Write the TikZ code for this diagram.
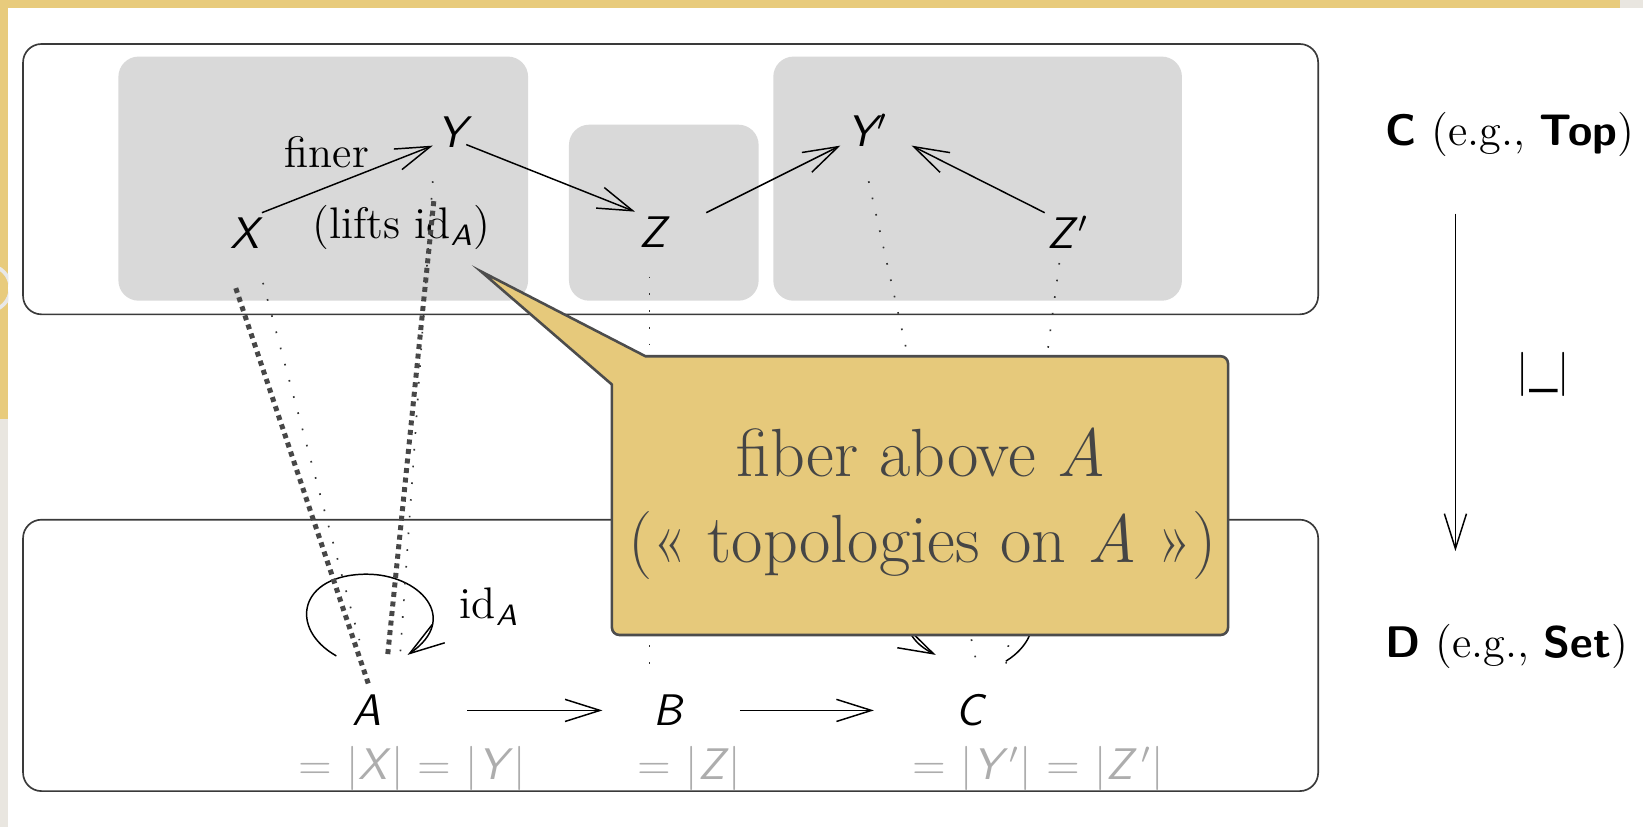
\documentclass[tikz,border=0pt]{standalone}
\usepackage{amsmath}
\usepackage{fontspec}
\usetikzlibrary{arrows.meta,calc}
\definecolor{beamyel}{HTML}{E8CB7C}
\definecolor{calloutyel}{HTML}{E6C97B}
\definecolor{boxgrey}{HTML}{D9D9D9}
\definecolor{texgrey}{HTML}{ADADAD}
\definecolor{darkline}{HTML}{3A3A3A}
\definecolor{stripgrey}{HTML}{E9E6E0}
\tikzset{
  obj/.style={font=\fontsize{12}{14}\selectfont\sffamily\itshape, inner sep=0pt},
  lbl/.style={font=\fontsize{12}{14}\selectfont, inner sep=0pt},
  greylbl/.style={font=\fontsize{12}{14}\selectfont\sffamily, text=texgrey, inner sep=0pt},
  arr/.style={line width=0.4pt, -{Straight Barb[length=9.5pt,width=6pt,line width=0.4pt]}},
  bigbox/.style={draw=darkline, line width=0.45pt, rounded corners=5pt},
  fiberbox/.style={fill=boxgrey, rounded corners=5.5pt},
  thindot/.style={line width=0.45pt, dash pattern=on 0.45pt off 4.1pt, draw=black!80},
  thickdot/.style={line width=1.35pt, dash pattern=on 1.35pt off 1.25pt, draw=black!72},
  calloutshape/.style={fill=calloutyel, draw=black!70, line width=0.7pt},
  callouttext/.style={font=\fontsize{18.5}{22}\selectfont, text=black!73, inner sep=0pt},
}
\begin{document}
\begin{tikzpicture}[x=0.01cm,y=-0.01cm]
\useasboundingbox (0,0) rectangle (1568,789);
% background
\fill[white] (0,0) rectangle (1568,789);
\fill[beamyel] (0,0) rectangle (1546,8);
\fill[stripgrey] (1546,0) rectangle (1568,8);
\fill[beamyel] (0,0) rectangle (8,400);
\fill[stripgrey] (0,400) rectangle (8,789);
\begin{scope}
  \clip (0,240) rectangle (8,310);
  \draw[white!82!gray, line width=1pt] (-12,275) circle (22);
\end{scope}
% boxes
\draw[bigbox] (22,42) rectangle (1258,300);
\draw[bigbox] (22,496) rectangle (1258,755);
\fill[fiberbox] (113,54) rectangle (504,287);
\fill[fiberbox] (543,119) rectangle (724,287);
\fill[fiberbox] (738,54) rectangle (1128,287);
% objects
\node[obj] (X) at (234,223) {X};
\node[obj] (Y) at (431,126) {Y};
\node[obj] (Z) at (623,222) {Z};
\node[obj] (Yp) at (828,124) {Y\kern0.3pt$'$};
\node[obj] (Zp) at (1019,222) {Z\kern1.2pt$'$};
\node[obj] (A) at (350,678) {A};
\node[obj] (B) at (637,678) {B};
\node[obj] (C) at (925,678) {C};
% grey equalities
\node[greylbl] (eqA) at (393,733) {= |\textit{X}| = |\textit{Y}|};
\node[greylbl] (eqB) at (658,733) {= |\textit{Z}|};
\node[greylbl] (eqC) at (991,733) {= |\textit{Y}\kern0.3pt$'$| = |\textit{Z}\kern1.2pt$'$|};
% labels
\node[lbl] (finer) at (312,145) {finer};
\node[lbl] (lifts) at (383,217) {(lifts id$_{\textsf{\textit{A}}}$)};
\node[lbl] (idA) at (467,579) {id$_{\textsf{\textit{A}}}$};
\node[lbl, anchor=west] (Clab) at (1322,128) {\textbf{\textsf{C}} (e.g., \textbf{\textsf{Top}})};
\node[lbl, anchor=west] (Dlab) at (1322,617) {\textbf{\textsf{D}} (e.g., \textbf{\textsf{Set}})};
\node[lbl] (forget) at (1473,357) {\textsf{|\_|}};
% arrows
\draw[arr] ($(X)+(16,-20)$) -- ($(Y)+(-18,13)$);
\draw[arr] ($(Y)+(14,12)$) -- ($(Z)+(-17,-20)$);
\draw[arr] ($(Z)+(51,-19)$) -- ($(Yp)+(-26,15)$);
\draw[arr] ($(Zp)+(-22,-19)$) -- ($(Yp)+(42,15)$);
\draw[arr] ($(A)+(96,0)$) -- ($(B)+(-62,0)$);
\draw[arr] ($(B)+(69,0)$) -- ($(C)+(-91,0)$);
\draw[arr] ($(Clab.west)+(67,76)$) -- ($(Dlab.west)+(67,-91)$);
% loops
\draw[arr] ($(A)+(-29,-52)$) .. controls ($(A)+(-75,-78)$) and ($(A)+(-65,-130)$) .. ($(A)+(0,-130)$) .. controls ($(A)+(50,-130)$) and ($(A)+(90,-88)$) .. ($(A)+(39,-53)$);
\draw[arr] ($(C)+(35,-47)$) .. controls ($(C)+(80,-75)$) and ($(C)+(65,-130)$) .. ($(C)+(0,-130)$) .. controls ($(C)+(-50,-130)$) and ($(C)+(-85,-80)$) .. ($(C)+(-32,-53)$);
% fibre projections
\draw[thindot] ($(X)+(17,47)$) -- ($(A)+(-7,-67)$);
\draw[thindot] ($(Y)+(-18,47)$) -- ($(A)+(32,-55)$);
\draw[thindot] ($(Z)+(-3,42)$) -- ($(B)+(-17,-43)$);
\draw[thindot] ($(Yp)+(1,49)$) -- ($(C)+(6,-50)$);
\draw[thindot] ($(Zp)+(-8,29)$) -- ($(C)+(35,-44)$);
\draw[thickdot] ($(X)+(-9,52)$) -- ($(A)+(2,-24)$);
\draw[thickdot] ($(Y)+(-17,66)$) -- ($(A)+(20,-53)$);
% callout
\draw[calloutshape] (459,259) -- (616,340) {[rounded corners=2pt] -- (1172,340) -- (1172,606) -- (584,606)} -- (584,367) -- cycle;
\node[callouttext, anchor=base] (cl1) at (879,455) {fiber above \textit{A}};
\node[callouttext, anchor=base] (cl2) at (880,537) {(«~topologies on \textit{A}~»)};
\end{tikzpicture}
\end{document}
